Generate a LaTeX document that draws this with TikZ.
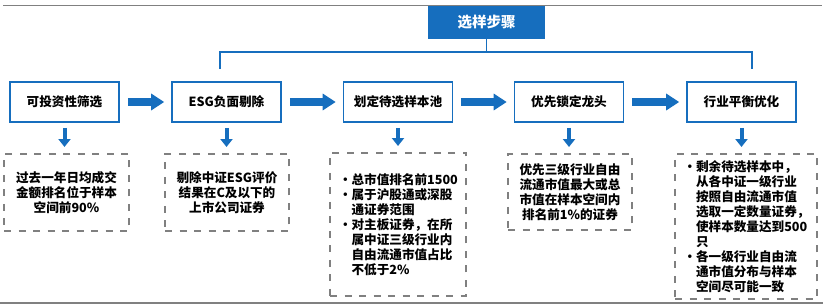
\documentclass[tikz,border=0pt]{standalone}
\usepackage{fontspec}
\setmainfont{Noto Sans CJK SC}
\usetikzlibrary{positioning, arrows.meta}
\definecolor{stepblue}{RGB}{22,110,190}
\definecolor{notegray}{RGB}{128,128,128}
\newcommand{\bul}{\makebox[13.5pt][l]{\hspace{1pt}•}}
\newcommand{\ind}{\makebox[13.5pt][l]{}}

\begin{document}
\begin{tikzpicture}[
			x=1pt, y=-1pt, on grid,
			stepbox/.style={draw=stepblue, line width=1.6pt, minimum width=109pt,
				minimum height=40pt, inner sep=0pt, font=\fontsize{12.6}{15}\selectfont\bfseries},
			notebox/.style={draw=notegray, line width=1.8pt, dash pattern=on 7pt off 7.5pt,
				anchor=north, inner sep=0pt, align=center, font=\fontsize{12.6}{15}\selectfont\bfseries},
			bigarrow/.style={draw=stepblue, line width=8pt, -{Triangle[length=13pt, width=16pt]},
				shorten <=8pt, shorten >=7pt},
			downarrow/.style={draw=stepblue, line width=4pt, -{Triangle[length=8pt, width=12pt]},
				shorten <=5pt, shorten >=6pt},
			link/.style={draw=stepblue, line width=1.4pt}
			]
			\useasboundingbox (0,0) rectangle (829,305);
			\draw[gray, line width=1pt] (3,6) -- (822,6);
			\draw[gray, line width=2pt] (0,302.5) -- (823,302.5);

			\node[fill=stepblue, text=white, minimum width=117pt, minimum height=33pt,
				font=\fontsize{14.5}{16}\selectfont\bfseries] (title) at (486.5,22.5) {选样步骤};

			\node[stepbox] (s1) at (64.5,102) {可投资性筛选};
			\node[stepbox] (s2) [right=162pt of s1] {ESG负面剔除};
			\node[stepbox] (s3) [right=171.5pt of s2] {划定待选样本池};
			\node[stepbox] (s4) [right=171pt of s3] {优先锁定龙头};
			\node[stepbox] (s5) [right=172.5pt of s4] {行业平衡优化};

			\node[notebox, minimum width=125pt, minimum height=77pt] (n1) at (66.5,153)
				{过去一年日均成交\\金额排名位于样本\\空间前90\%};
			\node[notebox, minimum width=124pt, minimum height=77pt] (n2) at (227,153)
				{剔除中证ESG评价\\结果在C及以下的\\上市公司证券};
			\node[notebox, minimum width=136pt, minimum height=143pt, align=left] (n3) at (398,152)
				{\bul 总市值排名前1500\\\bul 属于沪股通或深股\\\ind 通证券范围\\\bul 对主板证券，在所\\\ind 属中证三级行业内\\\ind 自由流通市值占比\\\ind 不低于2\%};
			\node[notebox, minimum width=124pt, minimum height=76pt] (n4) at (570,153)
				{优先三级行业自由\\流通市值最大或总\\市值在样本空间内\\排名前1\%的证券};
			\node[notebox, minimum width=142pt, minimum height=145pt, align=left] (n5) at (746,153)
				{\bul 剩余待选样本中，\\\ind 从各中证一级行业\\\ind 按照自由流通市值\\\ind 选取一定数量证券，\\\ind 使样本数量达到500\\\ind 只\\\bul 各一级行业自由流\\\ind 通市值分布与样本\\\ind 空间尽可能一致};

			% bracket from the title down to the steps
			\coordinate (tipL) at (220,69);
			\coordinate (tipR) at (752,69);
			\draw[link] (title.south) -- ++(0,13) coordinate (hub);
			\draw[link] (tipL) -- (tipL |- hub) -- (tipR |- hub) -- (tipR);

			\foreach \a/\b in {s1/s2, s2/s3, s3/s4, s4/s5}
				\draw[bigarrow] (\a) -- (\b);
			\foreach \i in {1,...,5}
				\draw[downarrow] (s\i.south) -- (s\i.south |- n\i.north);
		\end{tikzpicture}
\end{document}
